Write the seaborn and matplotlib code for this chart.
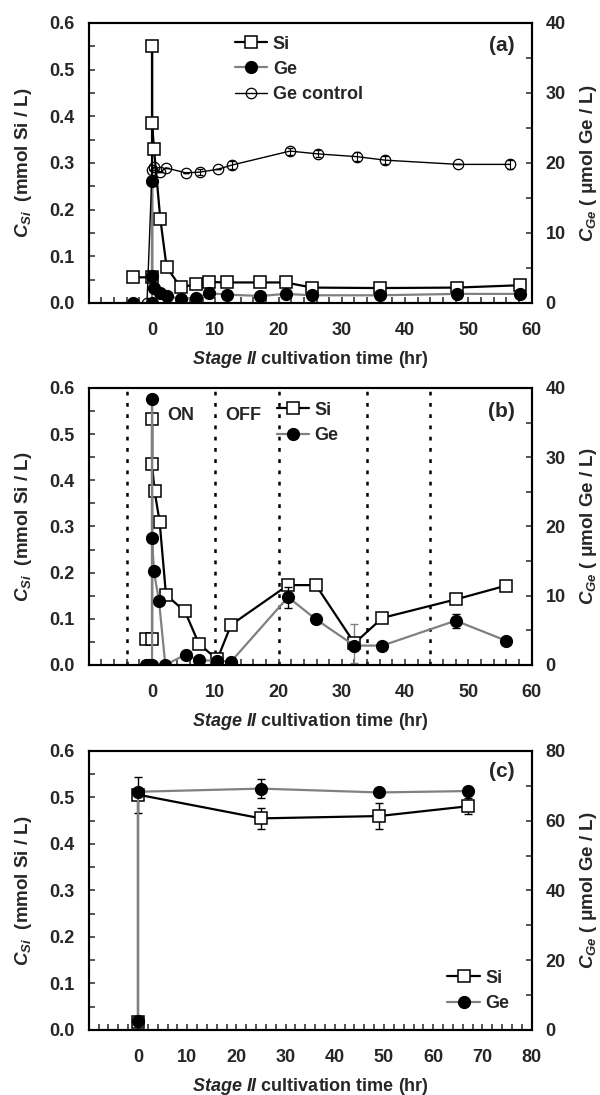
import numpy as np
import matplotlib
matplotlib.use('Agg')
import matplotlib.pyplot as plt
import seaborn as sns
from matplotlib.ticker import MultipleLocator, FormatStrFormatter

# ---- data ----
# panel (a)
si_a_t = [-3, 0, 0, 0, 0.3, 1.3, 2.3, 4.5, 7.0, 9.0, 11.8, 17.1, 21.1, 25.3, 36.0, 48.2, 58.1]
si_a = [0.055, 0.055, 0.551, 0.385, 0.331, 0.181, 0.077, 0.034, 0.040, 0.045, 0.044, 0.044, 0.044, 0.033, 0.032, 0.033, 0.038]
ge_a_t = [-3, 0, 0, 0, 0.3, 1.3, 2.3, 4.5, 7.0, 9.0, 11.8, 17.1, 21.1, 25.3, 36.0, 48.2, 58.1]
ge_a = [0, 0, 17.4, 3.9, 2.2, 1.4, 1.0, 0.6, 0.7, 1.4, 1.2, 1.0, 1.3, 1.1, 1.1, 1.3, 1.3]
ctrl_a_t = [-0.8, 0, 0.3, 1.3, 2.2, 5.3, 7.6, 10.4, 12.6, 21.8, 26.2, 32.4, 36.9, 48.4, 56.6]
ctrl_a = [0, 19.0, 19.4, 18.7, 19.3, 18.6, 18.7, 19.1, 19.7, 21.7, 21.3, 20.9, 20.4, 19.8, 19.8]
ctrl_a_err = [0, 0, 0, 0, 0, 0, 0.4, 0, 0.6, 0.5, 0.5, 0.6, 0.6, 0, 0.6]

# panel (b)
si_b_t = [-1, 0, 0, 0, 0.4, 1.2, 2.2, 5.2, 7.4, 10.3, 12.5, 21.5, 25.9, 32.0, 36.4, 48.0, 56.0]
si_b = [0.057, 0.057, 0.532, 0.435, 0.377, 0.310, 0.152, 0.116, 0.046, 0.012, 0.087, 0.173, 0.173, 0.047, 0.102, 0.142, 0.172]
si_b_err = [0, 0, 0, 0, 0, 0, 0, 0, 0, 0, 0, 0, 0, 0.042, 0, 0, 0]
ge_b_t = [-1, -0.5, 0, 0, 0, 0.3, 1.1, 2.1, 5.3, 7.4, 10.3, 12.5, 21.5, 25.9, 32.0, 36.4, 48.0, 56.0]
ge_b = [0, 0, 0, 38.4, 18.4, 13.5, 9.2, 0, 1.5, 0.7, 0.6, 0.5, 9.8, 6.6, 2.8, 2.8, 6.4, 3.5]
ge_b_err = [0, 0, 0, 0, 0, 0, 0, 0, 0, 0, 0, 0, 1.5, 0, 0, 0, 1.0, 0]
light_switch_t = [-4, 10, 20, 34, 44]

# panel (c)
si_c_t = [0, 0, 25, 49, 67]
si_c = [0.018, 0.506, 0.455, 0.460, 0.481]
si_c_err = [0, 0.039, 0.023, 0.027, 0.017]
ge_c_t = [0, 0, 25, 49, 67]
ge_c = [2.7, 68.3, 69.2, 68.1, 68.5]
ge_c_err = [0, 0, 2.7, 0, 0]

# ---- style ----
sns.set_theme(style='ticks')
plt.rcParams['font.family'] = ['Liberation Sans', 'DejaVu Sans']
plt.rcParams['font.weight'] = 'bold'
plt.rcParams['axes.labelweight'] = 'bold'
plt.rcParams['mathtext.fontset'] = 'custom'
plt.rcParams['mathtext.it'] = 'Liberation Sans:italic:bold'
plt.rcParams['mathtext.rm'] = 'Liberation Sans:bold'
plt.rcParams['mathtext.bf'] = 'Liberation Sans:bold'
plt.rcParams['axes.linewidth'] = 1.5

GRAY = '#808080'
fig = plt.figure(figsize=(6, 10.95), dpi=100)
boxes = [[0.148, 0.7233, 0.738, 0.2557],
         [0.148, 0.3927, 0.738, 0.2530],
         [0.148, 0.0594, 0.738, 0.2548]]


def setup(ax, ax2, xmax, gemax, gemajor):
    ax.set_xlim(-10, xmax)
    ax.set_ylim(0, 0.6)
    ax2.set_ylim(0, gemax)
    ax.set_xticks(np.arange(0, xmax + 1, 10))
    ax.xaxis.set_minor_locator(MultipleLocator(2))
    ax.yaxis.set_major_locator(MultipleLocator(0.1))
    ax.yaxis.set_minor_locator(MultipleLocator(0.05))
    ax.yaxis.set_major_formatter(FormatStrFormatter('%.1f'))
    ax2.yaxis.set_major_locator(MultipleLocator(gemajor))
    ax2.yaxis.set_minor_locator(MultipleLocator(gemajor / 2))
    ax.tick_params(axis='x', which='both', direction='in', length=4, width=1.1,
                   pad=14, labelsize=13, top=False)
    ax.tick_params(axis='y', which='both', direction='in', length=4, width=1.1,
                   pad=10, labelsize=13, right=False)
    ax2.tick_params(axis='y', which='both', direction='in', length=4, width=1.1,
                    pad=10, labelsize=13)
    for a in (ax, ax2):
        for s in a.spines.values():
            s.set_visible(True)
            s.set_linewidth(1.5)
            s.set_color('black')
        for lab in a.get_xticklabels() + a.get_yticklabels():
            lab.set_fontweight('bold')
    ax.set_xlabel(r'$Stage\ II$ cultivation time (hr)', fontsize=13)
    ax.xaxis.set_label_coords(0.5, -0.165)
    ax.set_ylabel(r'$C_{Si}$  (mmol Si / L)', fontsize=13.5)
    ax.yaxis.set_label_coords(-0.124, 0.5)
    ax2.set_ylabel(r'$C_{Ge}$ ( μmol Ge / L)', fontsize=13.5)
    ax2.yaxis.set_label_coords(1.104, 0.5)
    ax.grid(False)
    ax2.grid(False)


def si_line(ax, t, v):
    sns.lineplot(x=t, y=v, ax=ax, estimator=None, sort=False, legend=False,
                 color='black', lw=1.6, marker='s', markersize=9,
                 markerfacecolor='white', markeredgecolor='black',
                 markeredgewidth=1.1, label='Si')


def ge_line(ax, t, v):
    sns.lineplot(x=t, y=v, ax=ax, estimator=None, sort=False, legend=False,
                 color=GRAY, lw=1.6, marker='o', markersize=8.5,
                 markerfacecolor='black', markeredgecolor='black',
                 markeredgewidth=1, label='Ge')


def legend(ax, ax2, anchor, loc):
    h1, l1 = ax.get_legend_handles_labels()
    h2, l2 = ax2.get_legend_handles_labels()
    leg = ax2.legend(h1 + h2, l1 + l2, loc=loc, bbox_to_anchor=anchor,
                     frameon=False, fontsize=13, handlelength=1.8,
                     handletextpad=0.3, labelspacing=0.45, borderpad=0,
                     borderaxespad=0)
    for t in leg.get_texts():
        t.set_fontweight('bold')


# ---- panel (a) ----
ax = fig.add_axes(boxes[0])
ax2 = ax.twinx()
si_line(ax, si_a_t, si_a)
ge_line(ax2, ge_a_t, ge_a)
ax2.errorbar(ctrl_a_t, ctrl_a, yerr=ctrl_a_err, fmt='none', ecolor='black',
             elinewidth=0.8, capsize=2)
sns.lineplot(x=ctrl_a_t, y=ctrl_a, ax=ax2, estimator=None, sort=False, legend=False,
             color='black', lw=1.0, marker='o', markersize=7.5,
             markerfacecolor='none', markeredgecolor='black',
             markeredgewidth=0.9, label='Ge control')
setup(ax, ax2, 60, 40, 10)
legend(ax, ax2, (0.33, 0.955), 'upper left')
ax.text(0.962, 0.92, '(a)', transform=ax.transAxes, ha='right', va='center',
        fontsize=15, fontweight='bold')

# ---- panel (b) ----
ax = fig.add_axes(boxes[1])
ax2 = ax.twinx()
for t in light_switch_t:
    ax.axvline(t, color='black', lw=1.8, linestyle=(0, (1.5, 3.0)), zorder=0)
ax.errorbar(si_b_t, si_b, yerr=si_b_err, fmt='none', ecolor=GRAY,
            elinewidth=1, capsize=3)
si_line(ax, si_b_t, si_b)
ax2.errorbar(ge_b_t, ge_b, yerr=ge_b_err, fmt='none', ecolor='black',
             elinewidth=1, capsize=3)
ge_line(ax2, ge_b_t, ge_b)
setup(ax, ax2, 60, 40, 10)
legend(ax, ax2, (0.424, 0.95), 'upper left')
ax.text(4.5, 0.54, 'ON', ha='center', va='center', fontsize=13, fontweight='bold')
ax.text(14.4, 0.54, 'OFF', ha='center', va='center', fontsize=13, fontweight='bold')
ax.text(0.962, 0.914, '(b)', transform=ax.transAxes, ha='right', va='center',
        fontsize=15, fontweight='bold')

# ---- panel (c) ----
ax = fig.add_axes(boxes[2])
ax2 = ax.twinx()
ax.errorbar(si_c_t, si_c, yerr=si_c_err, fmt='none', ecolor='black',
            elinewidth=1, capsize=3)
si_line(ax, si_c_t, si_c)
ax2.errorbar(ge_c_t, ge_c, yerr=ge_c_err, fmt='none', ecolor='black',
             elinewidth=1, capsize=3)
ge_line(ax2, ge_c_t, ge_c)
setup(ax, ax2, 80, 80, 20)
legend(ax, ax2, (0.81, 0.065), 'lower left')
ax.text(0.962, 0.926, '(c)', transform=ax.transAxes, ha='right', va='center',
        fontsize=15, fontweight='bold')

fig.savefig('out.png', dpi=100)
